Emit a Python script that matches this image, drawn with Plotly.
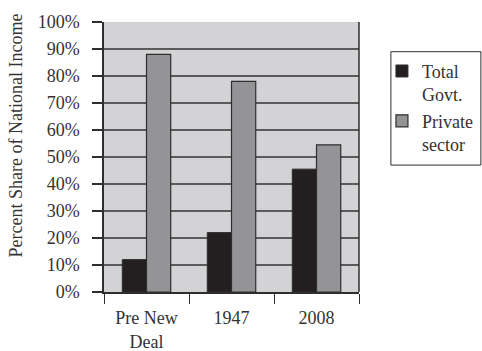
import plotly.graph_objects as go

# Share of national income by sector (percent)
categories = ["Pre New<br>Deal", "1947", "2008"]
govt_share = [12, 22, 45.5]
private_share = [88, 78, 54.5]
y_ticks = [0, 10, 20, 30, 40, 50, 60, 70, 80, 90, 100]
y_tick_labels = [f"{v}%" for v in y_ticks]

serif = "Liberation Serif, Times New Roman, serif"
line_col = "#2e2e2e"
text_col = "#333333"

fig = go.Figure()
fig.add_trace(go.Bar(
    x=categories, y=govt_share, name="Total<br>Govt.",
    marker=dict(color="#231f20", line=dict(color=line_col, width=1)),
))
fig.add_trace(go.Bar(
    x=categories, y=private_share, name="Private<br>sector",
    marker=dict(color="#949497", line=dict(color=line_col, width=1.2)),
))

fig.update_layout(
    width=482, height=351,
    margin=dict(l=104, r=123, t=22, b=59, autoexpand=False),
    paper_bgcolor="white",
    plot_bgcolor="#d3d3d5",
    barmode="group",
    bargap=0.43,
    bargroupgap=0,
    font=dict(family=serif, size=18, color=text_col),
    showlegend=True,
    legend=dict(
        x=1.09, y=0.886, xanchor="left", yanchor="top",
        borderwidth=0,
        bgcolor="rgba(0,0,0,0)",
        font=dict(family=serif, size=18, color=text_col),
        valign="top",
        itemwidth=30,
    ),
)

fig.update_xaxes(
    type="category",
    automargin=False,
    tickson="boundaries",
    ticks="outside", ticklen=10, tickwidth=1.2, tickcolor=line_col,
    showline=True, linecolor=line_col, linewidth=1.5,
    showgrid=False,
    ticklabelstandoff=9,
    tickfont=dict(family=serif, size=18, color=text_col),
)
fig.update_yaxes(
    range=[0, 100],
    automargin=False,
    tickvals=y_ticks, ticktext=y_tick_labels,
    ticks="outside", ticklen=10, tickwidth=1.5, tickcolor=line_col,
    showline=True, linecolor=line_col, linewidth=1.5,
    showgrid=True, gridcolor="#5a5a5a", gridwidth=1.5,
    zeroline=False,
    ticklabelstandoff=9,
    tickfont=dict(family=serif, size=18, color=text_col),
)

# Axis title, set a little above the vertical centre
fig.add_annotation(
    text="Percent Share of National Income", textangle=-90,
    xref="paper", yref="paper", x=-0.345, y=0.58,
    xanchor="center", yanchor="middle", showarrow=False,
    font=dict(family=serif, size=18, color=text_col),
)

# Right border of the plotting frame
fig.add_shape(type="line", xref="paper", yref="paper", x0=1, x1=1, y0=0, y1=1,
              line=dict(color=line_col, width=1.5))
# Legend frame
fig.add_shape(type="rect", xref="paper", yref="paper",
              x0=1.125, x1=1.478, y0=0.47, y1=0.89,
              line=dict(color=line_col, width=1), fillcolor="rgba(0,0,0,0)")

fig.write_html("out.html")
